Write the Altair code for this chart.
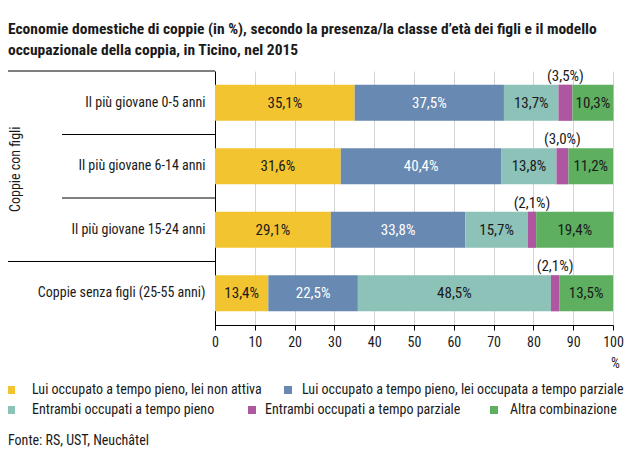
import altair as alt
import pandas as pd

categories = [
    "Il più giovane 0-5 anni",
    "Il più giovane 6-14 anni",
    "Il più giovane 15-24 anni",
    "Coppie senza figli (25-55 anni)",
]
series = [
    "Lui occupato a tempo pieno, lei non attiva",
    "Lui occupato a tempo pieno, lei occupata a tempo parziale",
    "Entrambi occupati a tempo pieno",
    "Entrambi occupati a tempo parziale",
    "Altra combinazione",
]
colors = ["#F2C530", "#6889B2", "#8DC2B9", "#AE56A0", "#5EAF60"]
text_colors = ["#1a1a1a", "#ffffff", "#1a1a1a", "#1a1a1a", "#1a1a1a"]

lui_pieno_lei_non_attiva = [35.1, 31.6, 29.1, 13.4]
lui_pieno_lei_parziale = [37.5, 40.4, 33.8, 22.5]
entrambi_pieno = [13.7, 13.8, 15.7, 48.5]
entrambi_parziale = [3.5, 3.0, 2.1, 2.1]
altra_combinazione = [10.3, 11.2, 19.4, 13.5]

x_ticks = [0, 10, 20, 30, 40, 50, 60, 70, 80, 90, 100]
group_label = "Coppie con figli"
source = "Fonte: RS, UST, Neuchâtel"
title_lines = [
    "Economie domestiche di coppie (in %), secondo la presenza/la classe d’età dei figli e il modello",
    "occupazionale della coppia, in Ticino, nel 2015",
]

FONT = "Roboto Condensed"
FS = 14
W, H = 398, 254
PI = 0.43
STEP = H / len(categories)

all_series = [lui_pieno_lei_non_attiva, lui_pieno_lei_parziale, entrambi_pieno,
              entrambi_parziale, altra_combinazione]
rows = []
for si, (s, vals) in enumerate(zip(series, all_series)):
    for ci, c in enumerate(categories):
        v = vals[ci]
        lab = f"{v:.1f}%".replace(".", ",")
        if si == 3:
            lab = "(" + lab + ")"
        rows.append({"cat": c, "serie": s, "idx": si, "value": v, "label": lab,
                     "tcol": text_colors[si], "small": si == 3})
df = pd.DataFrame(rows)

x_scale = alt.Scale(domain=[0, 100], nice=False)
x_axis = alt.Axis(values=x_ticks, tickCount=11, title="%", titleFont=FONT, titleFontSize=FS,
                  titleFontWeight="normal", titleColor="#1a1a1a",
                  titleX=W + 2, titleY=38, titleAlign="center", titleBaseline="middle",
                  labelFont=FONT, labelFontSize=FS, labelColor="#1a1a1a",
                  labelOverlap=False, labelFlush=False,
                  domainColor="#000", tickColor="#000", tickSize=5,
                  grid=True, gridColor="#d4d4d4", labelPadding=5)

y_scale = alt.Scale(paddingInner=PI, paddingOuter=PI / 2)
y_axis = alt.Axis(title=None, ticks=False, domain=True, domainColor="#000",
                  labelFont=FONT, labelFontSize=FS, labelColor="#1a1a1a",
                  labelPadding=10, labelLimit=300)
y_enc = alt.Y("cat:N", sort=categories, scale=y_scale, axis=y_axis)

base = alt.Chart(df).transform_stack(
    stack="value", groupby=["cat"], as_=["v0", "v1"],
    sort=[alt.SortField("idx", order="ascending")]
).transform_calculate(mid="(datum.v0 + datum.v1) / 2")

bars = base.mark_bar().encode(
    x=alt.X("v0:Q", scale=x_scale, axis=x_axis),
    x2="v1:Q",
    y=y_enc,
    color=alt.Color("serie:N", scale=alt.Scale(domain=series, range=colors), legend=None),
)

labels_in = base.transform_filter("!datum.small").mark_text(
    font=FONT, fontSize=15, baseline="middle", align="center"
).encode(
    x=alt.X("mid:Q", scale=x_scale, axis=x_axis), y=y_enc,
    text="label:N",
    color=alt.Color("tcol:N", scale=None),
)

labels_out = base.transform_filter("datum.small").mark_text(
    font=FONT, fontSize=15, baseline="middle", align="center", dy=-27, color="#1a1a1a"
).encode(
    x=alt.X("mid:Q", scale=x_scale, axis=x_axis), y=y_enc, text="label:N",
)

# separators between rows on the left (at the top of each row's band)
sep_df = pd.DataFrame({"cat": categories, "x0": [-210, -153, -153, -210], "x1": [0, 0, 0, 0]})
seps = alt.Chart(sep_df).mark_rule(color="#000", strokeWidth=1).encode(
    y=alt.Y("cat:N", sort=categories, scale=y_scale, axis=y_axis, bandPosition=0),
    yOffset=alt.value(-PI * STEP / 2),
    x=alt.X("x0:Q", scale=None), x2="x1:Q",
)

grp = alt.Chart(pd.DataFrame({"cat": [categories[1]], "t": [group_label]})).mark_text(
    font=FONT, fontSize=FS, angle=270, color="#1a1a1a", baseline="middle", align="center",
    dx=-3
).encode(y=y_enc, x=alt.value(-199), text="t:N")

# custom legend (layout as in the reference: 2 items, then 3 items)
leg_df = pd.DataFrame({
    "serie": series,
    "sx": [-204, 73, -204, 37, 279],
    "tx": [-183, 87, -183, 50, 295],
    "py": [319, 319, 339, 339, 339],
})
leg_sq = alt.Chart(leg_df).mark_square(size=64, opacity=1).encode(
    x=alt.X("sx:Q", scale=None), y=alt.Y("py:Q", scale=None),
    fill=alt.Fill("serie:N", scale=alt.Scale(domain=series, range=colors), legend=None),
)
leg_tx = alt.Chart(leg_df).mark_text(font=FONT, fontSize=FS, align="left", baseline="middle",
                                     color="#1a1a1a").encode(
    x=alt.X("tx:Q", scale=None), y=alt.Y("py:Q", scale=None), text="serie:N",
)
src = alt.Chart(pd.DataFrame({"t": [source]})).mark_text(
    font=FONT, fontSize=FS, align="left", baseline="middle", color="#1a1a1a"
).encode(x=alt.value(-207), y=alt.value(370), text="t:N")

chart = alt.layer(bars, labels_in, labels_out, seps, grp, leg_sq, leg_tx, src).resolve_scale(
    color="independent"
).properties(
    width=W, height=H,
    title=alt.Title(title_lines, anchor="start", frame="group", dx=-207, offset=10,
                    font=FONT, fontSize=15.5, fontWeight="bold", color="#1a1a1a",
                    lineHeight=21),
    autosize=alt.AutoSizeParams(type="none"),
    padding={"left": 207, "top": 63, "right": 11, "bottom": 122},
).configure_view(stroke=None)

chart.save("out.html", embed_options={"renderer": "svg", "actions": False})
